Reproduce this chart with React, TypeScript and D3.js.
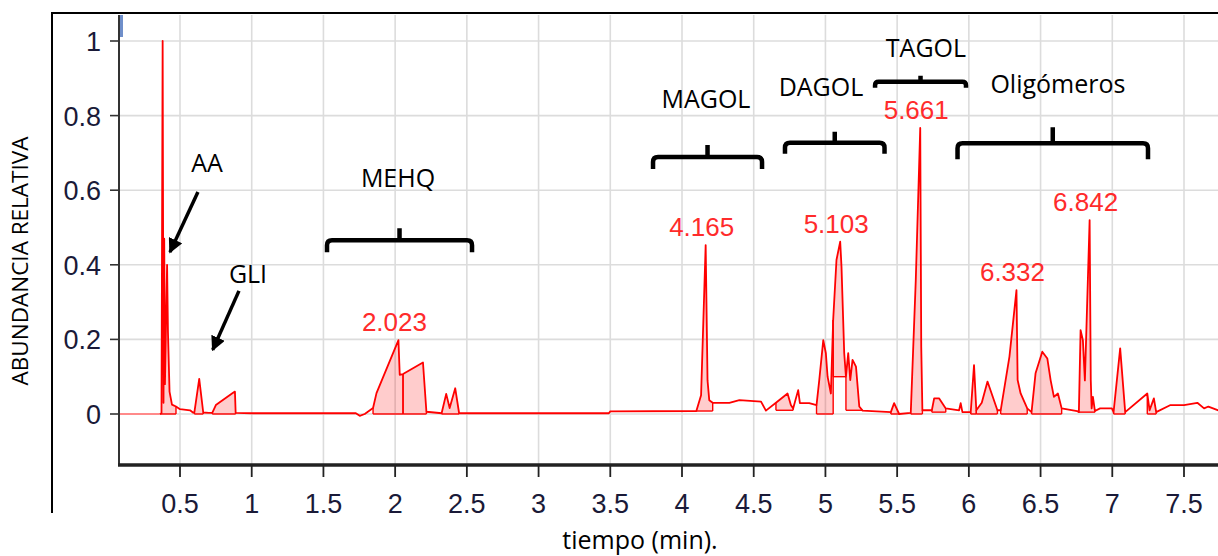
import React from 'react';
import * as d3 from 'd3';

// ---- data ----
const traceTimes = [
  0.075, 0.36, 0.371, 0.379, 0.385, 0.39, 0.395, 0.41, 0.416, 0.427, 0.444, 0.472, 0.5, 0.57, 0.59,
  0.6, 0.634, 0.662, 0.7, 0.725, 0.75, 0.87, 0.883, 0.888, 1.0, 1.726, 1.753, 1.788, 1.846, 1.87,
  2.023, 2.032, 2.055, 2.194, 2.218, 2.324, 2.356, 2.38, 2.419, 2.446, 3.49, 3.5, 4.1, 4.133, 4.165,
  4.178, 4.19, 4.214, 4.33, 4.4, 4.551, 4.585, 4.655, 4.736, 4.759, 4.775, 4.81, 4.822, 4.887, 4.938,
  4.957, 4.985, 5.003, 5.015, 5.038, 5.054, 5.077, 5.103, 5.112, 5.131, 5.143, 5.159, 5.173, 5.189,
  5.213, 5.236, 5.259, 5.456, 5.479, 5.514, 5.595, 5.63, 5.661, 5.668, 5.676, 5.742, 5.758, 5.792,
  5.839, 5.932, 5.943, 5.955, 6.013, 6.036, 6.052, 6.09, 6.13, 6.199, 6.222, 6.283, 6.332, 6.34,
  6.361, 6.407, 6.437, 6.465, 6.512, 6.547, 6.57, 6.593, 6.621, 6.647, 6.755, 6.767, 6.779, 6.795,
  6.809, 6.842, 6.85, 6.856, 6.865, 6.879, 6.915, 6.997, 7.009, 7.055, 7.09, 7.244, 7.26, 7.29,
  7.306, 7.406, 7.5, 7.593, 7.64, 7.67, 7.75,
];
const traceValues = [
  0, 0, 0.002, 1.0, 0.03, 0.47, 0.08, 0.4, 0.22, 0.06, 0.025, 0.02, 0.013, 0.01, 0.004,
  0.004, 0.094, 0.004, 0.003, 0.003, 0.024, 0.057, 0.06, 0.003, 0.002, 0.002, -0.005, 0.0, 0.016, 0.056,
  0.198, 0.105, 0.107, 0.138, 0.006, 0.002, 0.054, 0.016, 0.069, 0.002, 0.002, 0.007, 0.008, 0.05, 0.453,
  0.09, 0.037, 0.03, 0.03, 0.037, 0.033, 0.009, 0.03, 0.055, 0.024, 0.015, 0.064, 0.029, 0.029, 0.024,
  0.091, 0.198, 0.163, 0.1, 0.055, 0.252, 0.413, 0.462, 0.395, 0.163, 0.1, 0.163, 0.091, 0.145,
  0.127, 0.02, 0.009, 0.005, 0.029, 0.0, 0.003, 0.36, 0.767, 0.18, 0.01, 0.01, 0.042, 0.042,
  0.015, 0.01, 0.029, 0.005, 0.005, 0.131, 0.01, 0.03, 0.087, 0.01, 0.01, 0.154, 0.332, 0.091,
  0.055, 0.015, 0.005, 0.109, 0.167, 0.149, 0.091, 0.046, 0.055, 0.015, 0.008, 0.005, 0.225, 0.198,
  0.09, 0.52, 0.091, 0.015, 0.046, 0.008, 0.015, 0.015, 0.005, 0.176, 0.005, 0.055, 0.01, 0.042,
  0.005, 0.024, 0.024, 0.03, 0.015, 0.02, 0.008,
];
const signalStart = 0.36;

// integrated peaks: start, end, baseline level
const fillStarts = [0.36, 0.6, 0.725, 1.846, 2.055, 2.324, 4.1, 4.655, 4.938, 5.054, 5.143, 5.456, 5.595, 5.742, 6.013, 6.052, 6.222, 6.437, 6.767, 7.009, 7.244];
const fillEnds = [0.472, 0.662, 0.888, 2.055, 2.218, 2.446, 4.214, 4.775, 5.054, 5.143, 5.259, 5.514, 5.676, 5.839, 6.052, 6.199, 6.407, 6.647, 6.879, 7.09, 7.306];
const fillBases = [0, 0, 0, 0, 0, 0, 0.008, 0.01, 0, 0.1, 0.01, 0, 0, 0.005, 0, 0, 0, 0, 0.005, 0, 0];

const xTickValues = [0.5, 1, 1.5, 2, 2.5, 3, 3.5, 4, 4.5, 5, 5.5, 6, 6.5, 7, 7.5];
const yTickValues = [0, 0.2, 0.4, 0.6, 0.8, 1];

const peakLabels = ['2.023', '4.165', '5.103', '5.661', '6.332', '6.842'];
const peakTimes = [2.023, 4.165, 5.103, 5.661, 6.332, 6.842];
const peakValues = [0.198, 0.453, 0.462, 0.767, 0.332, 0.52];

const groupNames = ['AA', 'GLI', 'MEHQ', 'MAGOL', 'DAGOL', 'TAGOL', 'Oligómeros'];
const groupTimes = [0.688, 0.974, 2.02, 4.167, 4.969, 5.701, 6.621];
const groupValues = [0.649, 0.351, 0.609, 0.82, 0.853, 0.957, 0.861];

const bracketStarts = [1.525, 3.798, 4.718, 5.346, 5.921];
const bracketEnds = [2.536, 4.558, 5.412, 5.98, 7.249];
const bracketLevels = [0.466, 0.689, 0.727, 0.891, 0.726];
const bracketDepths = [12, 12, 11, 6, 16];

const arrowFromT = [0.625, 0.911];
const arrowFromV = [0.595, 0.33];
const arrowToT = [0.43, 0.728];
const arrowToV = [0.434, 0.172];

const xTitle = 'tiempo (min).';
const yTitle = 'ABUNDANCIA RELATIVA';

// ---- layout ----
const W = 1218;
const H = 556;
const plotLeft = 119;
const plotTop = 15;
const plotBottom = 465;

export default function App() {
  const x = d3.scaleLinear().domain([0.5, 7.5]).range([180, 1184]);
  const y = d3.scaleLinear().domain([0, 1]).range([414, 41]);

  const pts: [number, number][] = traceTimes.map((t, i) => [t, traceValues[i]]);
  const interp = (t: number) => {
    const i = d3.bisector((d: [number, number]) => d[0]).left(pts, t);
    if (i <= 0) return pts[0][1];
    if (i >= pts.length) return pts[pts.length - 1][1];
    const a = pts[i - 1], b = pts[i];
    if (b[0] === a[0]) return b[1];
    return a[1] + ((t - a[0]) / (b[0] - a[0])) * (b[1] - a[1]);
  };

  const line = d3.line<[number, number]>().x(d => x(d[0])).y(d => y(d[1]));
  const pre = pts.filter(d => d[0] <= signalStart);
  const main = pts.filter(d => d[0] >= signalStart);

  const fills = fillStarts.map((t0, i) => {
    const t1 = fillEnds[i];
    const base = fillBases[i];
    const seg: [number, number][] = [[t0, interp(t0)], ...pts.filter(d => d[0] > t0 && d[0] < t1), [t1, interp(t1)]];
    const area = d3.area<[number, number]>()
      .x(d => x(d[0]))
      .y0(() => y(base))
      .y1(d => y(Math.max(d[1], base)));
    return { path: area(seg) || '', t0, t1, base, v0: interp(t0), v1: interp(t1) };
  });

  const tickFont = "'Liberation Sans', Arial, sans-serif";
  const annFont = "'Open Sans', 'Noto Sans', sans-serif";
  const fmt = (v: number) => String(+v.toFixed(1));

  const bracketPath = (i: number) => {
    const x0 = x(bracketStarts[i]);
    const x1 = x(bracketEnds[i]);
    const yy = y(bracketLevels[i]);
    const d = bracketDepths[i];
    const r = Math.min(5, d * 0.6);
    const xm = (x0 + x1) / 2;
    return `M${x0},${yy + d} L${x0},${yy + r} Q${x0},${yy} ${x0 + r},${yy} L${x1 - r},${yy} Q${x1},${yy} ${x1},${yy + r} L${x1},${yy + d} M${xm},${yy} L${xm},${yy - d}`;
  };

  return (
    <svg width={W} height={H} style={{ position: 'fixed', left: 0, top: 0, background: '#fff' }}>
      <defs>
        <clipPath id="plotClip">
          <rect x={plotLeft} y={plotTop} width={W - plotLeft} height={plotBottom - plotTop} />
        </clipPath>
        <marker id="arrowHead" viewBox="0 0 10 10" refX="9" refY="5" markerWidth="4.2" markerHeight="4.2" orient="auto" markerUnits="strokeWidth">
          <path d="M0,0 L10,5 L0,10 z" fill="#000" />
        </marker>
      </defs>
      <rect x={0} y={0} width={W} height={H} fill="#fff" />

      {/* outer frame */}
      <path d={`M52,${H - 43} L52,13 L${W},13`} fill="none" stroke="#000" strokeWidth={2} />

      {/* grid */}
      <g clipPath="url(#plotClip)">
        {xTickValues.map(t => (
          <line key={'gx' + t} x1={x(t)} x2={x(t)} y1={plotTop} y2={plotBottom} stroke="#dcdcdc" strokeWidth={1.6} />
        ))}
        {yTickValues.map(v => (
          <line key={'gy' + v} x1={plotLeft} x2={W} y1={y(v)} y2={y(v)} stroke="#dcdcdc" strokeWidth={1.6} />
        ))}
      </g>

      {/* chromatogram */}
      <g clipPath="url(#plotClip)">
        {fills.map((f, i) => (
          <g key={'f' + i}>
            <path d={f.path} fill="#ff0000" fillOpacity={0.2} stroke="none" />
            <line x1={x(f.t0)} x2={x(f.t1)} y1={y(f.base)} y2={y(f.base)} stroke="#ff0000" strokeWidth={1.4} />
            <line x1={x(f.t0)} x2={x(f.t0)} y1={y(f.base)} y2={y(Math.max(f.v0, f.base))} stroke="#ff0000" strokeWidth={1.4} />
            <line x1={x(f.t1)} x2={x(f.t1)} y1={y(f.base)} y2={y(Math.max(f.v1, f.base))} stroke="#ff0000" strokeWidth={1.4} />
          </g>
        ))}
        <path d={line(pre) || ''} fill="none" stroke="#ff8a8a" strokeWidth={2} />
        <path d={line(main) || ''} fill="none" stroke="#ff0000" strokeWidth={1.8} strokeLinejoin="round" />
      </g>

      {/* cursor mark */}
      <rect x={120} y={15} width={3} height={22} fill="#6f8fca" />

      {/* axes */}
      <line x1={plotLeft} x2={plotLeft} y1={plotTop} y2={plotBottom} stroke="#333" strokeWidth={2} />
      <line x1={plotLeft - 1} x2={W} y1={plotBottom} y2={plotBottom} stroke="#222" strokeWidth={3.5} />
      {yTickValues.map(v => (
        <g key={'yt' + v}>
          <line x1={plotLeft - 9} x2={plotLeft} y1={y(v)} y2={y(v)} stroke="#333" strokeWidth={1.6} />
          <text x={101} y={y(v) + 10} textAnchor="end" fontFamily={tickFont} fontSize={27} fill="#1a1a38">{fmt(v)}</text>
        </g>
      ))}
      {xTickValues.map(t => (
        <g key={'xt' + t}>
          <line x1={x(t)} x2={x(t)} y1={plotBottom} y2={plotBottom + 12} stroke="#222" strokeWidth={1.8} />
          <text x={x(t)} y={513} textAnchor="middle" fontFamily={tickFont} fontSize={27} fill="#1a1a38">{fmt(t)}</text>
        </g>
      ))}

      {/* peak labels */}
      {peakLabels.map((s, i) => (
        <text key={'pl' + i} x={x(peakTimes[i]) - 4} y={y(peakValues[i]) - 9} textAnchor="middle" fontFamily={tickFont} fontSize={26} fill="#ff2b2b">{s}</text>
      ))}

      {/* brackets */}
      {bracketStarts.map((_, i) => (
        <path key={'br' + i} d={bracketPath(i)} fill="none" stroke="#000" strokeWidth={4.5} />
      ))}

      {/* arrows */}
      {arrowFromT.map((_, i) => (
        <line key={'ar' + i} x1={x(arrowFromT[i])} y1={y(arrowFromV[i])} x2={x(arrowToT[i])} y2={y(arrowToV[i])} stroke="#000" strokeWidth={3.5} markerEnd="url(#arrowHead)" />
      ))}

      {/* group labels */}
      {groupNames.map((s, i) => (
        <text key={'gn' + i} x={x(groupTimes[i])} y={y(groupValues[i])} textAnchor="middle" fontFamily={annFont} fontSize={25} fill="#000">{s}</text>
      ))}

      {/* axis titles */}
      <text x={640} y={549} textAnchor="middle" fontFamily={annFont} fontSize={25} fill="#000">{xTitle}</text>
      <text transform="translate(28,261) rotate(-90)" textAnchor="middle" fontFamily={annFont} fontSize={22.5} fill="#000">{yTitle}</text>
    </svg>
  );
}
